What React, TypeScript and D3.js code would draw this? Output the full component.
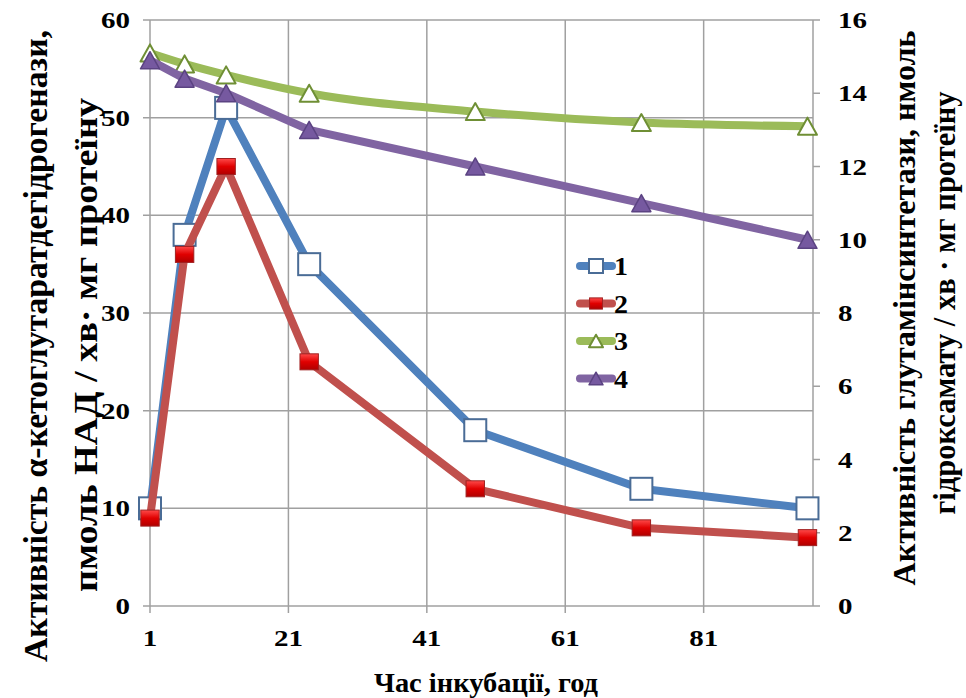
import React from "react";
import * as d3 from "d3";

const hours = [1, 6, 12, 24, 48, 72, 96];
const series1 = [10, 38, 51, 35, 18, 12, 10];
const series2 = [9, 36, 45, 25, 12, 8, 7];
const series3 = [15.1, 14.8, 14.5, 14.0, 13.5, 13.2, 13.1];
const series4 = [14.9, 14.4, 14.0, 13.0, 12.0, 11.0, 10.0];
const xTicks = [1, 21, 41, 61, 81];
const leftTicks = [0, 10, 20, 30, 40, 50, 60];
const rightTicks = [0, 2, 4, 6, 8, 10, 12, 14, 16];
const legendLabels = ["1", "2", "3", "4"];

const W = 966;
const H = 698;
const X0 = 150, X1 = 813, Y0 = 606, Y1 = 20;
const FONT = "Liberation Serif";

const COLORS = ["#4F81BD", "#C0504D", "#9BBB59", "#8064A2"];

function Marker({ kind, x, y, s }: { kind: number; x: number; y: number; s: number }) {
  if (kind === 0) {
    return <rect x={x - s / 2} y={y - s / 2} width={s} height={s} fill="#ffffff" stroke="#4a6c96" strokeWidth={2} />;
  }
  if (kind === 1) {
    const w = s * 0.92, h = s * 0.8;
    return <rect x={x - w / 2} y={y - h / 2} width={w} height={h} fill="url(#redGrad)" stroke="#a02020" strokeWidth={1} />;
  }
  const w = s, h = s * 0.9;
  const pts = `${x},${y - h / 2} ${x + w / 2},${y + h / 2} ${x - w / 2},${y + h / 2}`;
  if (kind === 2) return <polygon points={pts} fill="#ffffff" stroke="#6f8f35" strokeWidth={2} strokeLinejoin="round" />;
  return <polygon points={pts} fill="#7659a0" stroke="#5b4382" strokeWidth={1.5} strokeLinejoin="round" />;
}

const tstyle = { fontFamily: FONT, fontWeight: 700 } as const;

export default function App() {
  const x = d3.scaleLinear().domain([1, 96.8]).range([X0, X1]);
  const yL = d3.scaleLinear().domain([0, 60]).range([Y0, Y1]);
  const yR = d3.scaleLinear().domain([0, 16]).range([Y0, Y1]);

  const all = [
    { vals: series1, y: yL, curve: d3.curveLinear },
    { vals: series2, y: yL, curve: d3.curveLinear },
    { vals: series3, y: yR, curve: d3.curveMonotoneX },
    { vals: series4, y: yR, curve: d3.curveLinear },
  ];
  const markerSizes = [22, 20, 19, 19];
  const digitW = 14.5;

  return (
    <svg width={W} height={H} style={{ position: "absolute", left: 0, top: 0, background: "#fff" }}>
      <defs>
        <linearGradient id="redGrad" x1="0" y1="0" x2="0" y2="1">
          <stop offset="0" stopColor="#ff4a4a" />
          <stop offset="0.5" stopColor="#e00000" />
          <stop offset="1" stopColor="#b00000" />
        </linearGradient>
      </defs>
      <rect x={0} y={0} width={W} height={H} fill="#fff" />
      {/* grid */}
      {leftTicks.map((t) => (
        <line key={"gh" + t} x1={X0 - 7} x2={X1} y1={yL(t)} y2={yL(t)} stroke="#a0a0a0" strokeWidth={1.5} />
      ))}
      {xTicks.map((t) => (
        <line key={"gv" + t} x1={x(t)} x2={x(t)} y1={Y1} y2={Y0 + 7} stroke="#a0a0a0" strokeWidth={1.5} />
      ))}
      <line x1={X1} x2={X1} y1={Y1} y2={Y0} stroke="#a0a0a0" strokeWidth={1.5} />
      {rightTicks.map((t) => (
        <line key={"rt" + t} x1={X1} x2={X1 + 7} y1={yR(t)} y2={yR(t)} stroke="#a0a0a0" strokeWidth={1.5} />
      ))}
      {/* tick labels */}
      {leftTicks.map((t) => (
        <text key={"lt" + t} x={130} y={yL(t)} dy="0.35em" textAnchor="end" style={tstyle} fontSize={23} textLength={String(t).length * digitW} lengthAdjust="spacingAndGlyphs">{t}</text>
      ))}
      {rightTicks.map((t) => (
        <text key={"rl" + t} x={838} y={yR(t)} dy="0.35em" textAnchor="start" style={tstyle} fontSize={23} textLength={String(t).length * digitW} lengthAdjust="spacingAndGlyphs">{t}</text>
      ))}
      {xTicks.map((t) => (
        <text key={"xl" + t} x={x(t)} y={646} textAnchor="middle" style={tstyle} fontSize={23} textLength={String(t).length * digitW} lengthAdjust="spacingAndGlyphs">{t}</text>
      ))}
      {/* series */}
      {all.map((s, i) => {
        const line = d3.line<number>().x((_, j) => x(hours[j])).y((v) => s.y(v)).curve(s.curve);
        return (
          <g key={"s" + i}>
            <path d={line(s.vals) || ""} fill="none" stroke={COLORS[i]} strokeWidth={8} strokeLinejoin="round" strokeLinecap="round" />
            {s.vals.map((v, j) => (
              <Marker key={j} kind={i} x={x(hours[j])} y={s.y(v)} s={markerSizes[i]} />
            ))}
          </g>
        );
      })}
      {/* legend */}
      {legendLabels.map((lab, i) => {
        const ly = 266 + i * 37.5;
        return (
          <g key={"lg" + i}>
            <line x1={580} x2={612} y1={ly} y2={ly} stroke={COLORS[i]} strokeWidth={8} strokeLinecap="round" />
            <Marker kind={i} x={596} y={ly} s={14} />
            <text x={614} y={ly} dy="0.36em" style={tstyle} fontSize={25} textLength={14} lengthAdjust="spacingAndGlyphs">{lab}</text>
          </g>
        );
      })}
      {/* axis titles */}
      <text x={486} y={692} textAnchor="middle" style={tstyle} fontSize={27} textLength={224} lengthAdjust="spacingAndGlyphs">Час інкубації,  год</text>
      <text transform="translate(47,346) rotate(-90)" textAnchor="middle" style={tstyle} fontSize={33} textLength={632} lengthAdjust="spacingAndGlyphs">Активність α-кетоглутаратдегідрогенази,</text>
      <text transform="translate(97,345) rotate(-90)" textAnchor="middle" style={tstyle} fontSize={34} textLength={494} lengthAdjust="spacingAndGlyphs">пмоль НАД / хв· мг протеїну</text>
      <text transform="translate(915,308) rotate(-90)" textAnchor="middle" style={tstyle} fontSize={31} textLength={555} lengthAdjust="spacingAndGlyphs">Активність глутамінсинтетази, нмоль</text>
      <text transform="translate(955,303) rotate(-90)" textAnchor="middle" style={tstyle} fontSize={32} textLength={423} lengthAdjust="spacingAndGlyphs">гідроксамату / хв · мг протеїну</text>
    </svg>
  );
}
